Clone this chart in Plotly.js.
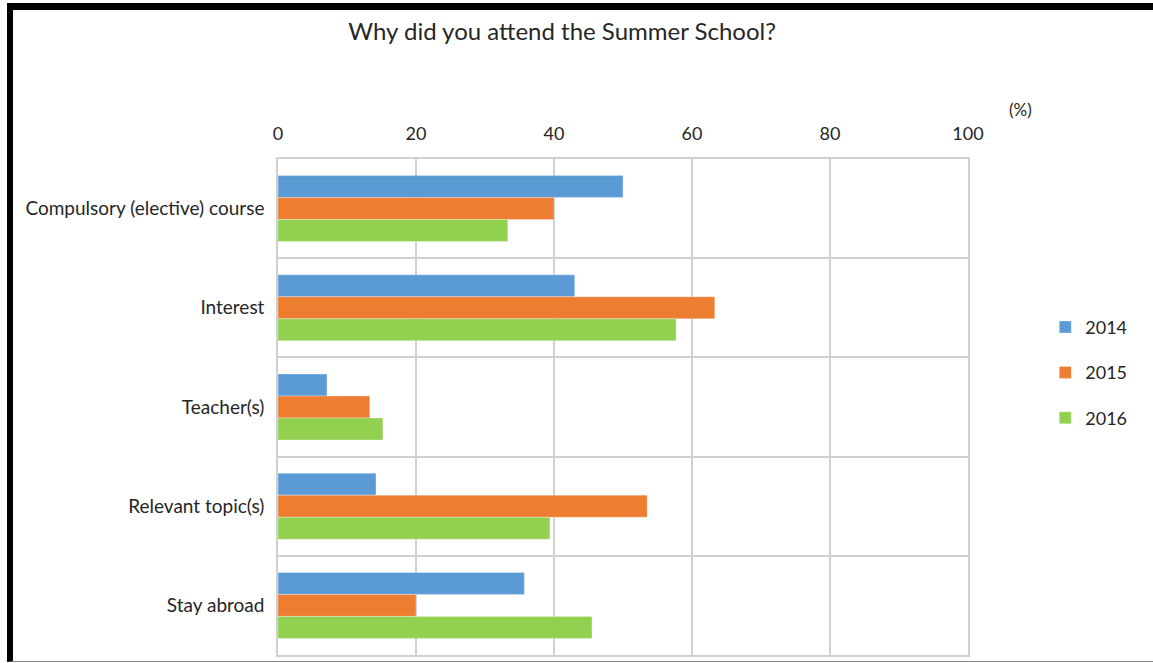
<!DOCTYPE html>
<html>
<head>
<meta charset="utf-8">
<script src="https://cdn.plot.ly/plotly-3.0.1.min.js"></script>
<style>
  html, body { margin: 0; padding: 0; background: #fff; }
  #wrap { position: relative; width: 1153px; height: 663px; overflow: hidden; }
  #chart { position: absolute; left: 0; top: 0; width: 1153px; height: 663px; }
  #frame { position: absolute; left: 7px; top: 3px; width: 1160px; height: 659px;
           border-left: 6px solid #000; border-top: 7px solid #000; border-bottom: 1px solid #888;
           pointer-events: none; box-sizing: border-box; }
</style>
</head>
<body>
<div id="wrap">
  <div id="chart"></div>
  <div id="frame"></div>
</div>
<script>
const categories = ["Compulsory (elective) course", "Interest", "Teacher(s)", "Relevant topic(s)", "Stay abroad"];
const years = ["2014", "2015", "2016"];
const values2014 = [50.0, 43.0, 7.1, 14.2, 35.7];
const values2015 = [40.0, 63.3, 13.3, 53.5, 20.0];
const values2016 = [33.3, 57.7, 15.2, 39.4, 45.5];
const colors = ["#5B9BD5", "#ED7D31", "#92D050"];
const xTicks = [0, 20, 40, 60, 80, 100];

const series = [values2014, values2015, values2016];
const FONT = "Lato, 'Open Sans', sans-serif";

const data = series.map((vals, i) => ({
  type: "bar",
  orientation: "h",
  name: years[i],
  legendgroup: years[i],
  x: vals,
  y: categories,
  marker: { color: colors[i], line: { color: "rgba(255,255,255,0.6)", width: 0.5 } },
  hoverinfo: "x+name"
}));

const layout = {
  width: 1153,
  height: 663,
  margin: { l: 278, r: 185, t: 159, b: 8, pad: 0 },
  paper_bgcolor: "#fff",
  plot_bgcolor: "#fff",
  font: { family: FONT, size: 18, color: "#262626" },
  title: {
    text: "Why did you attend the Summer School?",
    font: { family: FONT, size: 24, color: "#262626" },
    x: 0.4875, xanchor: "center",
    y: 0.953, yanchor: "middle"
  },
  barmode: "group",
  bargap: 0.335,
  bargroupgap: 0,
  xaxis: {
    side: "top",
    range: [0, 100],
    tickvals: xTicks,
    ticktext: xTicks.map(String),
    showgrid: true,
    gridcolor: "#d0d0d0",
    gridwidth: 1.5,
    zeroline: false,
    showline: true,
    mirror: true,
    linecolor: "#d0d0d0",
    linewidth: 1.5,
    ticks: "",
    ticklabelstandoff: 10,
    tickfont: { family: FONT, size: 18, color: "#262626" },
    fixedrange: true
  },
  yaxis: {
    type: "category",
    autorange: "reversed",
    tickson: "boundaries",
    showgrid: true,
    gridcolor: "#d0d0d0",
    gridwidth: 1.5,
    showline: true,
    mirror: true,
    linecolor: "#d0d0d0",
    linewidth: 1.5,
    ticks: "",
    ticklabelstandoff: 8,
    tickfont: { family: FONT, size: 19, color: "#262626" },
    fixedrange: true
  },
  legend: {
    x: 1.112, xanchor: "left",
    y: 0.569, yanchor: "middle",
    font: { family: FONT, size: 18, color: "#262626" },
    tracegroupgap: 19,
    itemwidth: 30,
    bgcolor: "rgba(0,0,0,0)"
  },
  annotations: [{
    text: "(%)",
    xref: "paper", yref: "paper",
    x: 1.0754, y: 1.1006,
    xanchor: "center", yanchor: "middle",
    showarrow: false,
    font: { family: FONT, size: 17, color: "#262626" }
  }],
  showlegend: true
};

Plotly.newPlot("chart", data, layout, { displayModeBar: false, staticPlot: false });
</script>
</body>
</html>
